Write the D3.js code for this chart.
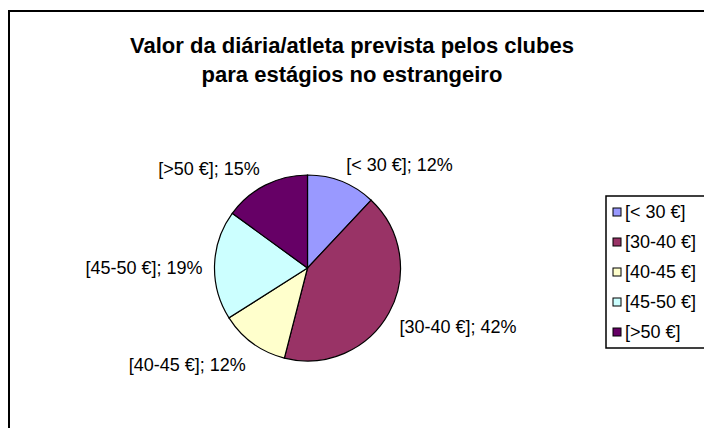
<!DOCTYPE html>
<html>
<head>
<meta charset="utf-8">
<script src="https://cdn.jsdelivr.net/npm/d3@7"></script>
<style>
  body { margin: 0; background: #fff; }
  text { font-family: "Liberation Sans", Arial, sans-serif; fill: #000; }
</style>
</head>
<body>
<svg id="chart" width="704" height="428"></svg>
<script>
// chart data
var categories = ["[< 30 €]", "[30-40 €]", "[40-45 €]", "[45-50 €]", "[>50 €]"];
var values = [12, 42, 12, 19, 15];
var colors = ["#9999FF", "#993366", "#FFFFCC", "#CCFFFF", "#660066"];
var titleLines = ["Valor da diária/atleta prevista pelos clubes", "para estágios no estrangeiro"];

var svg = d3.select("#chart");

// outer chart border (runs off the right and bottom)
svg.append("rect")
  .attr("x", 9).attr("y", 11)
  .attr("width", 760).attr("height", 480)
  .attr("fill", "#fff")
  .attr("stroke", "#000")
  .attr("stroke-width", 2);

// title
svg.append("g").selectAll("text")
  .data(titleLines)
  .enter().append("text")
  .attr("x", 352)
  .attr("y", function(d, i) { return 53 + i * 29; })
  .attr("text-anchor", "middle")
  .style("font-weight", "bold")
  .style("font-size", "22px")
  .text(function(d) { return d; });

// pie
var cx = 307.5, cy = 268, r = 93;
var pie = d3.pie().sort(null).value(function(d) { return d; });
var arcs = pie(values);
var arc = d3.arc().innerRadius(0).outerRadius(r);

var g = svg.append("g").attr("transform", "translate(" + cx + "," + cy + ")");

g.selectAll("path")
  .data(arcs)
  .enter().append("path")
  .attr("d", arc)
  .attr("fill", function(d, i) { return colors[i]; })
  .attr("stroke", "#000")
  .attr("stroke-width", 1.2);

// data labels outside the slices
var labelR = 105;
function mid(d) { return (d.startAngle + d.endAngle) / 2; }

g.selectAll("text.lbl")
  .data(arcs)
  .enter().append("text")
  .attr("class", "lbl")
  .attr("x", function(d) { return labelR * Math.sin(mid(d)); })
  .attr("y", function(d) { return -(labelR + 10) * Math.cos(mid(d)); })
  .attr("dy", "0.55em")
  .attr("text-anchor", function(d) { return mid(d) < Math.PI ? "start" : "end"; })
  .style("font-size", "18px")
  .text(function(d, i) { return categories[i] + "; " + values[i] + "%"; });

// legend
var lg = svg.append("g").attr("transform", "translate(606,196)");
lg.append("rect")
  .attr("width", 110).attr("height", 152)
  .attr("fill", "#fff")
  .attr("stroke", "#000")
  .attr("stroke-width", 1.5);

var item = lg.selectAll("g.item")
  .data(categories)
  .enter().append("g")
  .attr("class", "item")
  .attr("transform", function(d, i) { return "translate(0," + (16 + i * 30) + ")"; });

item.append("rect")
  .attr("x", 7).attr("y", -4)
  .attr("width", 8).attr("height", 8)
  .attr("fill", function(d, i) { return colors[i]; })
  .attr("stroke", "#000");

item.append("text")
  .attr("x", 19)
  .attr("dy", "0.35em")
  .style("font-size", "18px")
  .text(function(d) { return d; });
</script>
</body>
</html>
